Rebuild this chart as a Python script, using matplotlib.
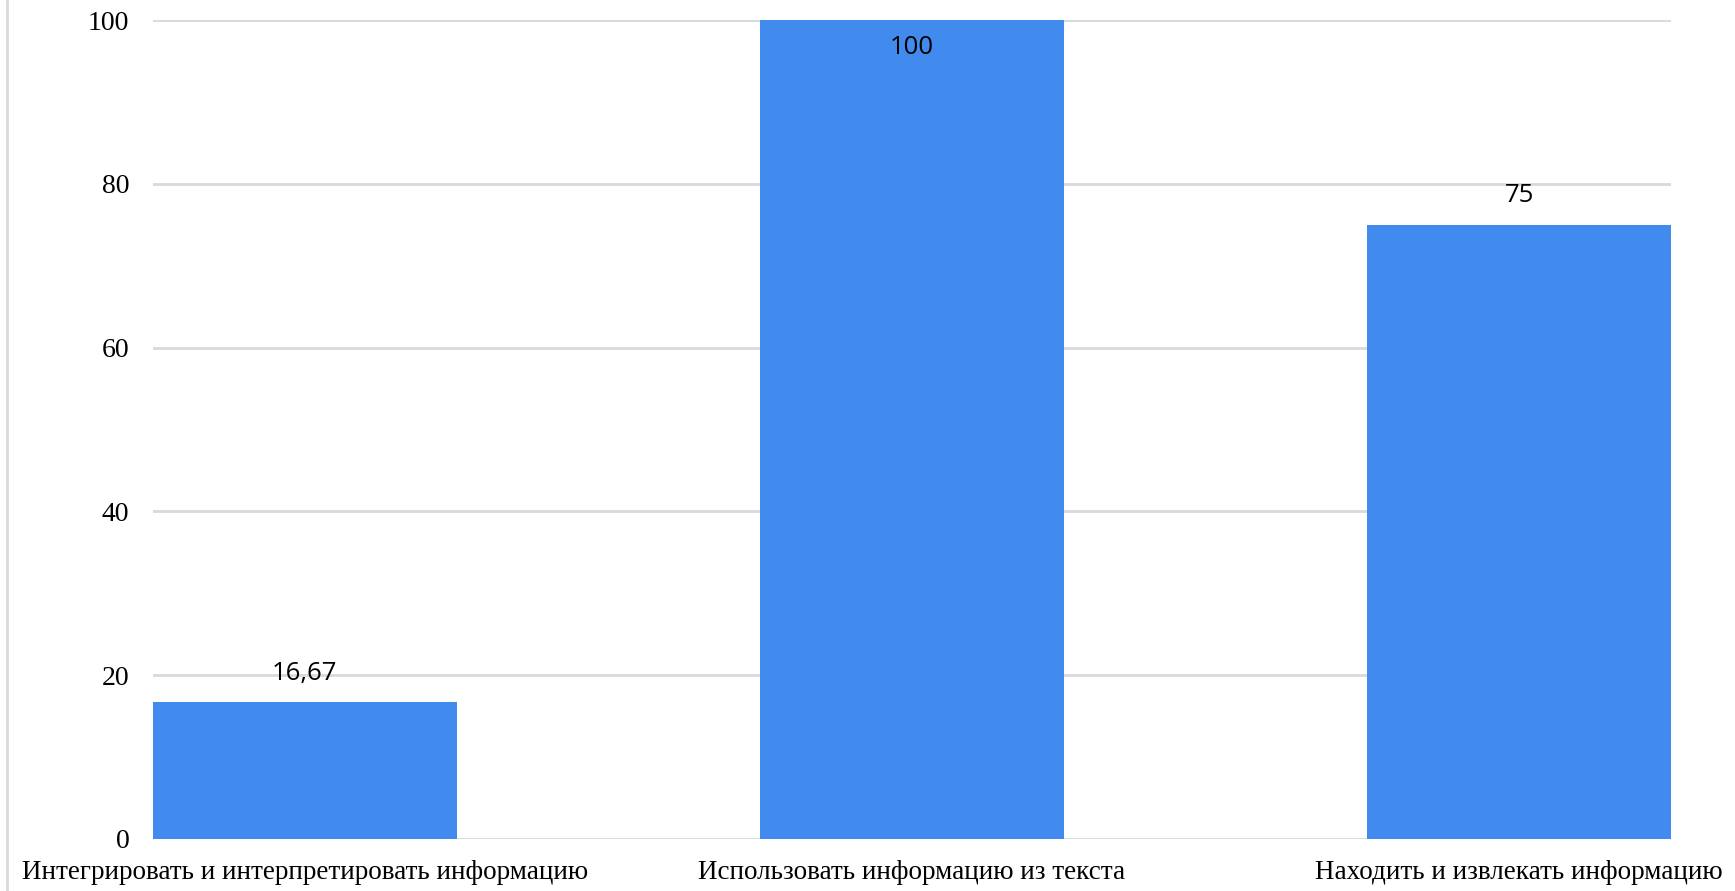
import matplotlib
matplotlib.use("Agg")
import matplotlib.pyplot as plt
from matplotlib.lines import Line2D
import numpy as np

categories = [
    "Интегрировать и интерпретировать информацию",
    "Использовать информацию из текста",
    "Находить и извлекать информацию",
]
values = [16.67, 100, 75]
value_labels = ["16,67", "100", "75"]
y_ticks = [0, 20, 40, 60, 80, 100]

_BLUE = "#428bee"
_GRID = "#d9d9d9"

fig = plt.figure(figsize=(17.35, 8.91), dpi=100)
ax = fig.add_axes([153 / 1735, 1 - 839 / 891, (1671 - 153) / 1735, (839 - 20) / 891])

x = np.arange(len(categories))
ax.bar(x, values, width=0.5, color=_BLUE, zorder=3)

ax.set_xlim(-0.25, len(categories) - 0.75)
ax.set_ylim(0, 100)
ax.set_yticks(y_ticks)
ax.set_yticklabels([str(t) for t in y_ticks], family="Liberation Serif", fontsize=20)
ax.tick_params(axis="y", length=0, pad=17)
ax.set_xticks(x)
ax.set_xticklabels(categories, family="Liberation Serif", fontsize=19.5)
ax.tick_params(axis="x", length=0, pad=15)
ax.grid(axis="y", color=_GRID, linewidth=2, zorder=0)
for s in ax.spines.values():
    s.set_visible(False)

for xi, v, lab in zip(x, values, value_labels):
    # label sits inside the bar when it reaches the top of the axis
    dy = -27 if v >= 95 else 29
    ax.annotate(lab, (xi, v), xytext=(0, dy), textcoords="offset pixels",
                ha="center", va="center", family="Open Sans", fontsize=18.5, zorder=4)

# thin frame line on the left edge
fig.add_artist(Line2D([7 / 1735, 7 / 1735], [0, 1], color=_GRID, linewidth=2,
                      transform=fig.transFigure))

fig.savefig("out.png", dpi=100)
